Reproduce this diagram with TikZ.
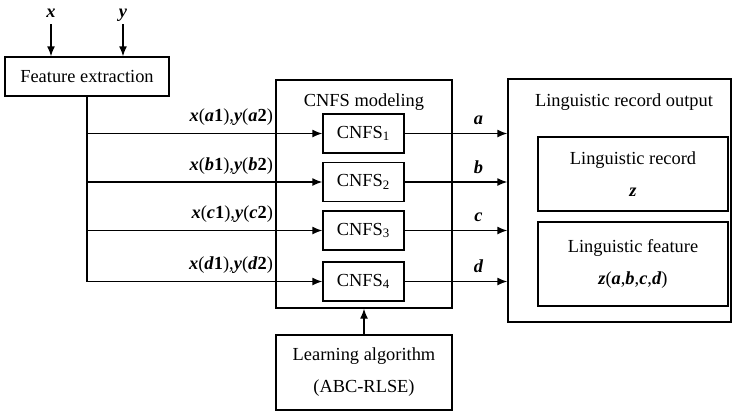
\documentclass[tikz,border=0pt]{standalone}
\usepackage{fontspec}
\setmainfont{Liberation Serif}
\usetikzlibrary{arrows.meta}
\newcommand{\bi}[1]{\textbf{\textit{#1}}}
\begin{document}
\begin{tikzpicture}[x=0.5pt,y=-0.5pt,font=\fontsize{9.2}{11}\selectfont,
  box/.style={draw,line width=0.7pt,inner sep=0pt,align=center},
  arr/.style={-{Latex[length=5pt,width=4pt]},line width=0.7pt}]
  \useasboundingbox (0,0) rectangle (732,412);
  % inputs and feature extraction
  \node[box,minimum width=82pt,minimum height=19.5pt] (fe) at (87,76.5) {Feature extraction};
  \coordinate (xin) at (51,24);
  \coordinate (yin) at (123,24);
  \node[anchor=base] at (51,18) {\bi{x}};
  \node[anchor=base] at (123,18) {\bi{y}};
  \draw[arr] (xin) -- (xin |- fe.north);
  \draw[arr] (yin) -- (yin |- fe.north);
  % CNFS modeling
  \node[box,minimum width=88pt,minimum height=114pt] (mod) at (364,194) {};
  \node at (364,102) {CNFS modeling};
  % linguistic record output
  \node[box,minimum width=111.5pt,minimum height=121.5pt] (out) at (619.5,200.5) {};
  \node at (624,102) {Linguistic record output};
  \node[box,minimum width=95pt,minimum height=37pt] (rec) at (633,174) {Linguistic record\\[5pt]\bi{z}};
  \node[box,minimum width=95pt,minimum height=42pt] (feat) at (633,264)
    {Linguistic feature\\[5pt]\bi{z}(\bi{a},\bi{b},\bi{c},\bi{d})};
  % learning algorithm
  \node[box,minimum width=88pt,minimum height=37.5pt] (learn) at (364,372.5)
    {Learning algorithm\\[5pt](ABC-RLSE)};
  \draw[arr] (learn.north) -- (mod.south);
  % CNFS blocks
  \foreach \i/\y/\l in {1/133.5/a,2/182/b,3/230.5/c,4/281.5/d}{
    \node[box,minimum width=40.5pt,minimum height=19.5pt] (c\i) at (363.5,\y) {CNFS\textsubscript{\i}};
    \draw[arr] (fe.south |- c\i.west) -- (c\i.west);
    \node[anchor=base east,inner sep=0pt,xshift=-1pt,yshift=5.8pt] at (mod.west |- c\i.west)
      {\bi{x}(\bi{\l}\textbf{1}),\bi{y}(\bi{\l}\textbf{2})};
    \draw[arr] (c\i.east) -- (c\i.east -| out.west)
      node[pos=0.72,anchor=base,inner sep=0pt,yshift=4.5pt] {\bi{\l}};
  }
  \draw[line width=0.7pt] (fe.south) -- (fe.south |- c4.west);
\end{tikzpicture}
\end{document}
